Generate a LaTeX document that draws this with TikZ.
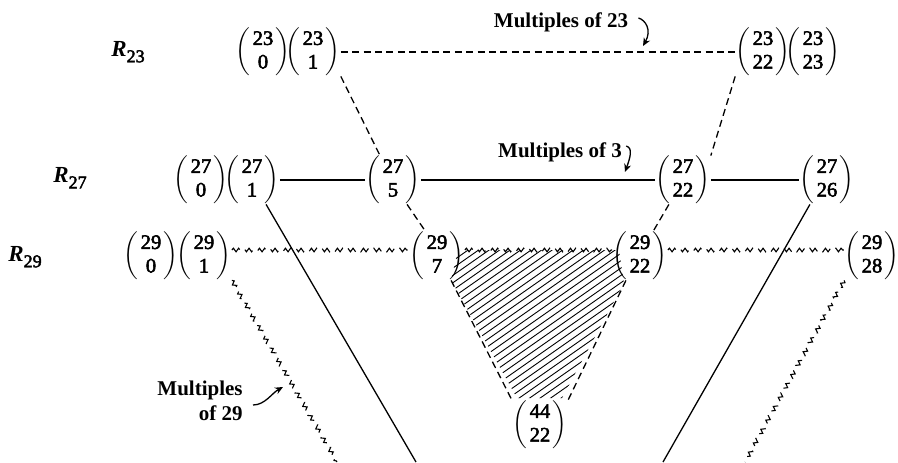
\documentclass[tikz,border=0pt]{standalone}
\usepackage{fontspec}
\setmainfont{Liberation Serif}
\newfontfamily\digfont{Liberation Serif}[FakeBold=2.5]
\usetikzlibrary{arrows.meta,decorations.pathmorphing,calc}
\newcommand{\bnm}[2]{$\left(\begin{tabular}{@{\hspace{1.2pt}}c@{\hspace{1.2pt}}}\digfont #1\\\digfont #2\end{tabular}\right)$}
\newcommand{\rlab}[1]{{\bfseries\itshape R}\raisebox{-2.8pt}{\fontsize{9}{10}\selectfont\digfont #1}}
\begin{document}
\begin{tikzpicture}[x=0.5pt,y=-0.5pt,
  bn/.style={inner sep=0pt, font=\fontsize{10.3}{11.8}\selectfont},
  rl/.style={inner sep=0pt, font=\fontsize{11.5}{13}\selectfont},
  lab/.style={inner sep=0pt, font=\fontsize{10.5}{12.5}\selectfont\bfseries},
  solidln/.style={line width=0.65pt},
  dashln/.style={line width=0.65pt, dash pattern=on 3.5pt off 2.2pt},
  wavy/.style={line width=0.55pt, decorate, decoration={snake, amplitude=0.9pt, segment length=2.6pt}, dash pattern=on 6.5pt off 4.5pt},
  hook/.style={line width=0.65pt, -{Stealth[length=4pt,width=3.5pt]}},
  hatchln/.style={line width=0.45pt}
]
\useasboundingbox (0,0) rectangle (898,462);

% row labels
\node[rl] (r23) at (128,52) {\rlab{23}};
\node[rl] (r27) at (70,178) {\rlab{27}};
\node[rl] (r29) at (25,257) {\rlab{29}};

% binomials
\node[bn] (a0)  at (263,52) {\bnm{23}{0}};
\node[bn] (a1)  at (313,52) {\bnm{23}{1}};
\node[bn] (a22) at (763,52) {\bnm{23}{22}};
\node[bn] (a23) at (813,52) {\bnm{23}{23}};

\node[bn] (b0)  at (201,180) {\bnm{27}{0}};
\node[bn] (b1)  at (252,180) {\bnm{27}{1}};
\node[bn] (b5)  at (393,180) {\bnm{27}{5}};
\node[bn] (b22) at (683,180) {\bnm{27}{22}};
\node[bn] (b26) at (827,180) {\bnm{27}{26}};

\node[bn] (c0)  at (151,256) {\bnm{29}{0}};
\node[bn] (c1)  at (204,256) {\bnm{29}{1}};
\node[bn] (c7)  at (437,256) {\bnm{29}{7}};
\node[bn] (c22) at (640,256) {\bnm{29}{22}};
\node[bn] (c28) at (872,256) {\bnm{29}{28}};

\node[bn] (d) at (540,425) {\bnm{44}{22}};

% hatched triangle
\begin{scope}
\clip (458,250) -- (619,250) -- (624,283) -- (562,398) -- (517,398) -- (451,280) -- cycle;
\foreach \k in {0,...,40} {
  \draw[hatchln] (190+\k*10.5,430) -- (190+\k*10.5+330,430-231);
}
\end{scope}

% labels
\node[lab] (m23) at (561,22) {Multiples of 23};
\node[lab] (m3)  at (560,152) {Multiples of 3};
\node[lab, align=right, anchor=east] (m29) at (243,401) {Multiples\\of 29};

% free ends
\coordinate (s1) at (416,462);
\coordinate (s2) at (663,462);
\coordinate (w1) at (337,462);
\coordinate (w2) at (745,462);
\coordinate (t23) at (643,46);
\coordinate (t3) at (625,172);
\coordinate (t29) at (283,387);

% R23 connectors
\draw[dashln] (a1.south east) -- (b5.118);
\draw[dashln] (a1.east) -- (a22.west);
\draw[dashln] (a22.south west) -- (b22.north east);

% R27 connectors
\draw[solidln] (b1.east) -- (b5.west);
\draw[solidln] (b5.east) -- (b22.west);
\draw[solidln] (b22.east) -- (b26.west);
\draw[dashln] (b5.300) -- (c7.115);
\draw[dashln] (b22.240) -- (c22.62);
\draw[solidln] (b1.300) -- (s1);
\draw[solidln] (b26.235) -- (s2);

% R29 connectors
\draw[wavy] ([yshift=3pt]c1.east) -- ([yshift=3pt]c7.west);
\draw[wavy] ([yshift=3pt]c7.east) -- ([yshift=3pt]c22.west);
\draw[wavy] ([yshift=3pt]c22.east) -- ([yshift=3pt]c28.west);
\draw[wavy] (c1.south east) -- (w1);
\draw[wavy] (c28.south west) -- (w2);

% triangle sides
\draw[dashln] (c7.300) -- (d.north west);
\draw[dashln] (c22.240) -- (d.north east);

% hook arrows
\draw[hook] ([xshift=5pt,yshift=2pt]m23.east) .. controls +(7,2) and (652,30) .. (t23);
\draw[hook] ([xshift=2pt,yshift=3pt]m3.east) .. controls +(7,2) and (630,158) .. (t3);
\draw[hook] ([xshift=5pt,yshift=-2pt]m29.east) .. controls +(12,0) and (272,393) .. (t29);
\end{tikzpicture}
\end{document}
